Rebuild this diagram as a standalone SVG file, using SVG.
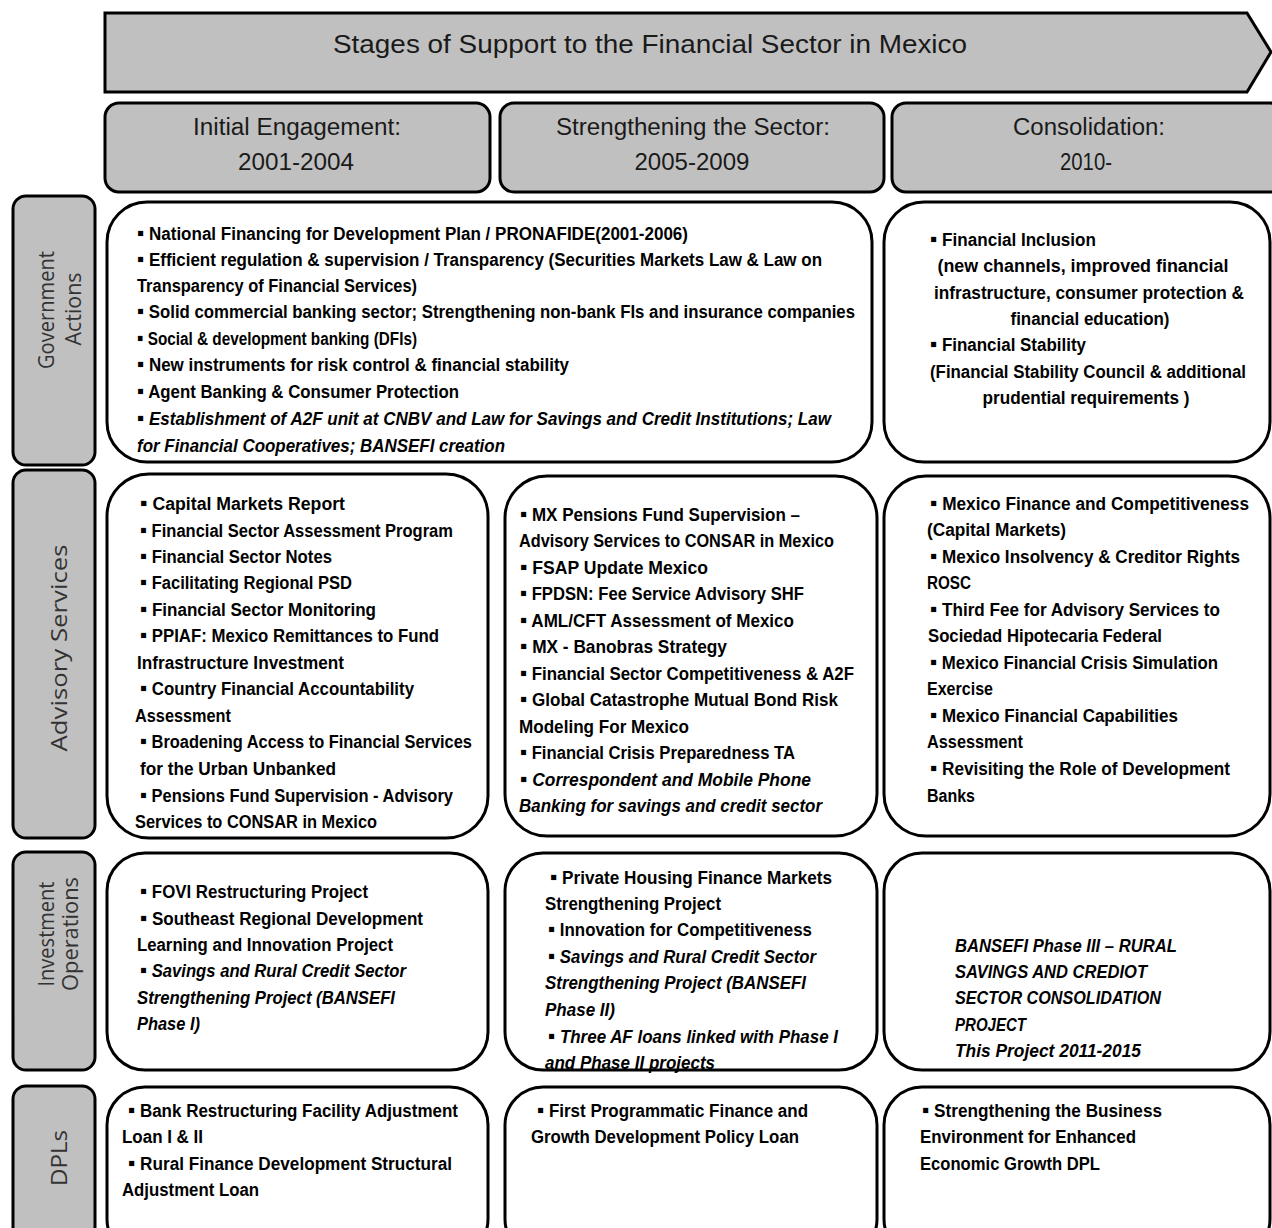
<svg xmlns="http://www.w3.org/2000/svg" width="1272" height="1228" viewBox="0 0 1272 1228">
<style>
.gray{fill:#c0c0c0;stroke:#000;stroke-width:3}
.box{fill:#fff;stroke:#000;stroke-width:3}
.hd{font-family:"Liberation Sans Narrow","Liberation Sans",Arial,sans-serif;font-size:23px;fill:#1a1a1a}
.lbl{font-family:"Open Sans","DejaVu Sans",sans-serif;font-size:21px;fill:#333}
.t{font-family:"Liberation Sans Narrow","Liberation Sans",Arial,sans-serif;font-size:17.5px;font-weight:bold;fill:#000}
.b{font-size:21px;font-style:normal}
.i{font-style:italic}
.c{text-anchor:middle}
</style>
<rect width="1272" height="1228" fill="#fff"/>
<g id="title">
<polygon class="gray" points="105,13 1247,13 1271,52 1247,92 105,92"/>
<text class="hd" x="650" y="53" text-anchor="middle" textLength="634" lengthAdjust="spacingAndGlyphs" style="font-size:25px">Stages of Support to the Financial Sector in Mexico</text>
</g>
<g id="stage1">
<rect class="gray" x="105" y="103" width="385" height="89" rx="14"/>
<text class="hd c" x="297" y="135" textLength="208" lengthAdjust="spacingAndGlyphs">Initial Engagement:</text>
<text class="hd c" x="296" y="170" textLength="116" lengthAdjust="spacingAndGlyphs">2001-2004</text>
</g>
<g id="stage2">
<rect class="gray" x="500" y="103" width="384" height="89" rx="14"/>
<text class="hd c" x="693" y="135" textLength="274" lengthAdjust="spacingAndGlyphs">Strengthening the Sector:</text>
<text class="hd c" x="692" y="170" textLength="115" lengthAdjust="spacingAndGlyphs">2005-2009</text>
</g>
<g id="stage3">
<rect class="gray" x="892" y="103" width="392" height="89" rx="14"/>
<text class="hd c" x="1089" y="135" textLength="152" lengthAdjust="spacingAndGlyphs">Consolidation:</text>
<text class="hd c" x="1086" y="170" textLength="52" lengthAdjust="spacingAndGlyphs">2010-</text>
</g>
<g id="label-gov">
<rect class="gray" x="13" y="196" width="82" height="269" rx="13"/>
<text class="lbl c" transform="translate(54,310) rotate(-90)" textLength="118" lengthAdjust="spacingAndGlyphs">Government</text>
<text class="lbl c" transform="translate(81,309) rotate(-90)" textLength="73" lengthAdjust="spacingAndGlyphs">Actions</text>
</g>
<g id="label-adv">
<rect class="gray" x="13" y="470" width="82" height="368" rx="13"/>
<text class="lbl c" transform="translate(67,648) rotate(-90)" textLength="207" lengthAdjust="spacingAndGlyphs">Advisory Services</text>
</g>
<g id="label-inv">
<rect class="gray" x="13" y="852" width="82" height="218" rx="13"/>
<text class="lbl c" transform="translate(54,934) rotate(-90)" textLength="105" lengthAdjust="spacingAndGlyphs">Investment</text>
<text class="lbl c" transform="translate(78,934) rotate(-90)" textLength="114" lengthAdjust="spacingAndGlyphs">Operations</text>
</g>
<g id="label-dpl">
<rect class="gray" x="13" y="1086" width="82" height="160" rx="13"/>
<text class="lbl c" transform="translate(67,1158) rotate(-90)" textLength="56" lengthAdjust="spacingAndGlyphs">DPLs</text>
</g>
<g id="gov-2001-2009">
<rect class="box" x="107" y="202" width="765" height="260" rx="40"/>
<text class="t" x="137" y="240" textLength="551" lengthAdjust="spacingAndGlyphs"><tspan class="b">▪</tspan> National Financing for Development Plan / PRONAFIDE(2001-2006)</text>
<text class="t" x="137" y="266" textLength="685" lengthAdjust="spacingAndGlyphs"><tspan class="b">▪</tspan> Efficient regulation &amp; supervision / Transparency (Securities Markets Law  &amp; Law on</text>
<text class="t" x="137" y="292" textLength="280" lengthAdjust="spacingAndGlyphs">Transparency of Financial Services)</text>
<text class="t" x="137" y="318" textLength="718" lengthAdjust="spacingAndGlyphs"><tspan class="b">▪</tspan> Solid commercial banking sector;  Strengthening non-bank FIs and insurance companies</text>
<text class="t" x="137" y="345" textLength="280" lengthAdjust="spacingAndGlyphs"><tspan class="b">▪</tspan> Social &amp; development banking (DFIs)</text>
<text class="t" x="137" y="371" textLength="432" lengthAdjust="spacingAndGlyphs"><tspan class="b">▪</tspan> New instruments for risk control &amp; financial stability</text>
<text class="t" x="137" y="398" textLength="322" lengthAdjust="spacingAndGlyphs"><tspan class="b">▪</tspan> Agent Banking &amp; Consumer Protection</text>
<text class="t i" x="137" y="425" textLength="694" lengthAdjust="spacingAndGlyphs"><tspan class="b">▪</tspan> Establishment of A2F unit at CNBV and Law for Savings and Credit Institutions; Law</text>
<text class="t i" x="137" y="452" textLength="368" lengthAdjust="spacingAndGlyphs">for Financial Cooperatives;  BANSEFI creation</text>
</g>
<g id="gov-2010">
<rect class="box" x="884" y="202" width="386" height="260" rx="40"/>
<text class="t" x="930" y="246" textLength="166" lengthAdjust="spacingAndGlyphs"><tspan class="b">▪</tspan>  Financial Inclusion</text>
<text class="t c" x="1083" y="272" textLength="291" lengthAdjust="spacingAndGlyphs">(new channels, improved financial</text>
<text class="t c" x="1089" y="299" textLength="310" lengthAdjust="spacingAndGlyphs">infrastructure, consumer protection &amp;</text>
<text class="t c" x="1090" y="325" textLength="159" lengthAdjust="spacingAndGlyphs">financial education)</text>
<text class="t" x="930" y="351" textLength="156" lengthAdjust="spacingAndGlyphs"><tspan class="b">▪</tspan>  Financial Stability</text>
<text class="t c" x="1088" y="378" textLength="316" lengthAdjust="spacingAndGlyphs">(Financial Stability Council &amp; additional</text>
<text class="t c" x="1086" y="404" textLength="207" lengthAdjust="spacingAndGlyphs">prudential requirements )</text>
</g>
<g id="adv-2001">
<rect class="box" x="107" y="474" width="381" height="364" rx="42"/>
<text class="t" x="140" y="510" textLength="205" lengthAdjust="spacingAndGlyphs"><tspan class="b">▪</tspan>  Capital Markets Report</text>
<text class="t" x="140" y="537" textLength="313" lengthAdjust="spacingAndGlyphs"><tspan class="b">▪</tspan>  Financial Sector Assessment Program</text>
<text class="t" x="140" y="563" textLength="192" lengthAdjust="spacingAndGlyphs"><tspan class="b">▪</tspan>  Financial Sector Notes</text>
<text class="t" x="140" y="589" textLength="212" lengthAdjust="spacingAndGlyphs"><tspan class="b">▪</tspan>  Facilitating Regional PSD</text>
<text class="t" x="140" y="616" textLength="236" lengthAdjust="spacingAndGlyphs"><tspan class="b">▪</tspan>  Financial Sector Monitoring</text>
<text class="t" x="140" y="642" textLength="299" lengthAdjust="spacingAndGlyphs"><tspan class="b">▪</tspan>  PPIAF: Mexico Remittances to Fund</text>
<text class="t" x="137" y="669" textLength="207" lengthAdjust="spacingAndGlyphs">Infrastructure Investment</text>
<text class="t" x="140" y="695" textLength="274" lengthAdjust="spacingAndGlyphs"><tspan class="b">▪</tspan>  Country Financial Accountability</text>
<text class="t" x="135" y="722" textLength="96" lengthAdjust="spacingAndGlyphs">Assessment</text>
<text class="t" x="140" y="748" textLength="332" lengthAdjust="spacingAndGlyphs"><tspan class="b">▪</tspan>  Broadening Access to Financial Services</text>
<text class="t" x="140" y="775" textLength="196" lengthAdjust="spacingAndGlyphs">for the Urban Unbanked</text>
<text class="t" x="140" y="802" textLength="313" lengthAdjust="spacingAndGlyphs"><tspan class="b">▪</tspan>  Pensions Fund Supervision - Advisory</text>
<text class="t" x="135" y="828" textLength="242" lengthAdjust="spacingAndGlyphs">Services to CONSAR in Mexico</text>
</g>
<g id="adv-2005">
<rect class="box" x="505" y="476" width="372" height="360" rx="42"/>
<text class="t" x="520" y="521" textLength="280" lengthAdjust="spacingAndGlyphs"><tspan class="b">▪</tspan>   MX Pensions Fund Supervision –</text>
<text class="t" x="519" y="547" textLength="315" lengthAdjust="spacingAndGlyphs">Advisory Services to CONSAR in Mexico</text>
<text class="t" x="520" y="574" textLength="188" lengthAdjust="spacingAndGlyphs"><tspan class="b">▪</tspan>   FSAP Update Mexico</text>
<text class="t" x="520" y="600" textLength="284" lengthAdjust="spacingAndGlyphs"><tspan class="b">▪</tspan>   FPDSN: Fee Service Advisory SHF</text>
<text class="t" x="520" y="627" textLength="274" lengthAdjust="spacingAndGlyphs"><tspan class="b">▪</tspan>  AML/CFT Assessment of Mexico</text>
<text class="t" x="520" y="653" textLength="207" lengthAdjust="spacingAndGlyphs"><tspan class="b">▪</tspan>  MX - Banobras Strategy</text>
<text class="t" x="520" y="680" textLength="334" lengthAdjust="spacingAndGlyphs"><tspan class="b">▪</tspan>  Financial Sector Competitiveness &amp; A2F</text>
<text class="t" x="520" y="706" textLength="318" lengthAdjust="spacingAndGlyphs"><tspan class="b">▪</tspan>  Global Catastrophe Mutual Bond Risk</text>
<text class="t" x="519" y="733" textLength="170" lengthAdjust="spacingAndGlyphs">Modeling For Mexico</text>
<text class="t" x="520" y="759" textLength="275" lengthAdjust="spacingAndGlyphs"><tspan class="b">▪</tspan>  Financial Crisis Preparedness TA</text>
<text class="t i" x="520" y="786" textLength="291" lengthAdjust="spacingAndGlyphs"><tspan class="b">▪</tspan>  Correspondent and Mobile Phone</text>
<text class="t i" x="519" y="812" textLength="303" lengthAdjust="spacingAndGlyphs">Banking for savings and credit sector</text>
</g>
<g id="adv-2010">
<rect class="box" x="884" y="476" width="386" height="360" rx="42"/>
<text class="t" x="930" y="510" textLength="319" lengthAdjust="spacingAndGlyphs"><tspan class="b">▪</tspan>   Mexico Finance and Competitiveness</text>
<text class="t" x="927" y="536" textLength="139" lengthAdjust="spacingAndGlyphs">(Capital Markets)</text>
<text class="t" x="930" y="563" textLength="310" lengthAdjust="spacingAndGlyphs"><tspan class="b">▪</tspan>   Mexico Insolvency &amp; Creditor Rights</text>
<text class="t" x="927" y="589" textLength="44" lengthAdjust="spacingAndGlyphs">ROSC</text>
<text class="t" x="930" y="616" textLength="290" lengthAdjust="spacingAndGlyphs"><tspan class="b">▪</tspan>   Third Fee for Advisory Services to</text>
<text class="t" x="928" y="642" textLength="234" lengthAdjust="spacingAndGlyphs">Sociedad Hipotecaria Federal</text>
<text class="t" x="930" y="669" textLength="288" lengthAdjust="spacingAndGlyphs"><tspan class="b">▪</tspan>  Mexico Financial Crisis Simulation</text>
<text class="t" x="927" y="695" textLength="66" lengthAdjust="spacingAndGlyphs">Exercise</text>
<text class="t" x="930" y="722" textLength="248" lengthAdjust="spacingAndGlyphs"><tspan class="b">▪</tspan>  Mexico Financial Capabilities</text>
<text class="t" x="927" y="748" textLength="96" lengthAdjust="spacingAndGlyphs">Assessment</text>
<text class="t" x="930" y="775" textLength="300" lengthAdjust="spacingAndGlyphs"><tspan class="b">▪</tspan>  Revisiting the Role of Development</text>
<text class="t" x="927" y="802" textLength="48" lengthAdjust="spacingAndGlyphs">Banks</text>
</g>
<g id="inv-2001">
<rect class="box" x="107" y="853" width="381" height="217" rx="38"/>
<text class="t" x="140" y="898" textLength="228" lengthAdjust="spacingAndGlyphs"><tspan class="b">▪</tspan>  FOVI Restructuring Project</text>
<text class="t" x="140" y="925" textLength="283" lengthAdjust="spacingAndGlyphs"><tspan class="b">▪</tspan>  Southeast Regional Development</text>
<text class="t" x="137" y="951" textLength="256" lengthAdjust="spacingAndGlyphs">Learning and Innovation Project</text>
<text class="t i" x="140" y="977" textLength="266" lengthAdjust="spacingAndGlyphs"><tspan class="b">▪</tspan> Savings and Rural Credit Sector</text>
<text class="t i" x="137" y="1004" textLength="258" lengthAdjust="spacingAndGlyphs">Strengthening Project (BANSEFI</text>
<text class="t i" x="137" y="1030" textLength="63" lengthAdjust="spacingAndGlyphs">Phase I)</text>
</g>
<g id="inv-2005">
<rect class="box" x="505" y="853" width="372" height="217" rx="38"/>
<text class="t" x="550" y="884" textLength="282" lengthAdjust="spacingAndGlyphs"><tspan class="b">▪</tspan>   Private Housing Finance Markets</text>
<text class="t" x="545" y="910" textLength="176" lengthAdjust="spacingAndGlyphs">Strengthening Project</text>
<text class="t" x="548" y="936" textLength="264" lengthAdjust="spacingAndGlyphs"><tspan class="b">▪</tspan> Innovation for Competitiveness</text>
<text class="t i" x="548" y="963" textLength="268" lengthAdjust="spacingAndGlyphs"><tspan class="b">▪</tspan> Savings and Rural Credit Sector</text>
<text class="t i" x="545" y="989" textLength="261" lengthAdjust="spacingAndGlyphs">Strengthening Project (BANSEFI</text>
<text class="t i" x="545" y="1016" textLength="70" lengthAdjust="spacingAndGlyphs">Phase II)</text>
<text class="t i" x="548" y="1043" textLength="290" lengthAdjust="spacingAndGlyphs"><tspan class="b">▪</tspan> Three AF loans linked with Phase I</text>
<text class="t i" x="545" y="1069" textLength="170" lengthAdjust="spacingAndGlyphs">and Phase II projects</text>
</g>
<g id="inv-2010">
<rect class="box" x="884" y="853" width="386" height="217" rx="38"/>
<text class="t i" x="955" y="952" textLength="222" lengthAdjust="spacingAndGlyphs">BANSEFI Phase III –  RURAL</text>
<text class="t i" x="955" y="978" textLength="192" lengthAdjust="spacingAndGlyphs">SAVINGS AND CREDIOT</text>
<text class="t i" x="955" y="1004" textLength="206" lengthAdjust="spacingAndGlyphs">SECTOR CONSOLIDATION</text>
<text class="t i" x="955" y="1031" textLength="71" lengthAdjust="spacingAndGlyphs">PROJECT</text>
<text class="t i" x="955" y="1057" textLength="186" lengthAdjust="spacingAndGlyphs">This Project 2011-2015</text>
</g>
<g id="dpl-2001">
<rect class="box" x="107" y="1087" width="381" height="170" rx="38"/>
<text class="t" x="128" y="1117" textLength="330" lengthAdjust="spacingAndGlyphs"><tspan class="b">▪</tspan>   Bank Restructuring Facility Adjustment</text>
<text class="t" x="122" y="1143" textLength="81" lengthAdjust="spacingAndGlyphs">Loan I &amp; II</text>
<text class="t" x="128" y="1170" textLength="324" lengthAdjust="spacingAndGlyphs"><tspan class="b">▪</tspan>   Rural Finance Development Structural</text>
<text class="t" x="122" y="1196" textLength="137" lengthAdjust="spacingAndGlyphs">Adjustment Loan</text>
</g>
<g id="dpl-2005">
<rect class="box" x="505" y="1087" width="372" height="170" rx="38"/>
<text class="t" x="537" y="1117" textLength="271" lengthAdjust="spacingAndGlyphs"><tspan class="b">▪</tspan>   First Programmatic Finance and</text>
<text class="t" x="531" y="1143" textLength="268" lengthAdjust="spacingAndGlyphs">Growth Development Policy Loan</text>
</g>
<g id="dpl-2010">
<rect class="box" x="884" y="1087" width="386" height="170" rx="38"/>
<text class="t" x="922" y="1117" textLength="240" lengthAdjust="spacingAndGlyphs"><tspan class="b">▪</tspan>   Strengthening the Business</text>
<text class="t" x="920" y="1143" textLength="216" lengthAdjust="spacingAndGlyphs">Environment for Enhanced</text>
<text class="t" x="920" y="1170" textLength="180" lengthAdjust="spacingAndGlyphs">Economic Growth DPL</text>
</g>
<g id="connectors"/>
</svg>
